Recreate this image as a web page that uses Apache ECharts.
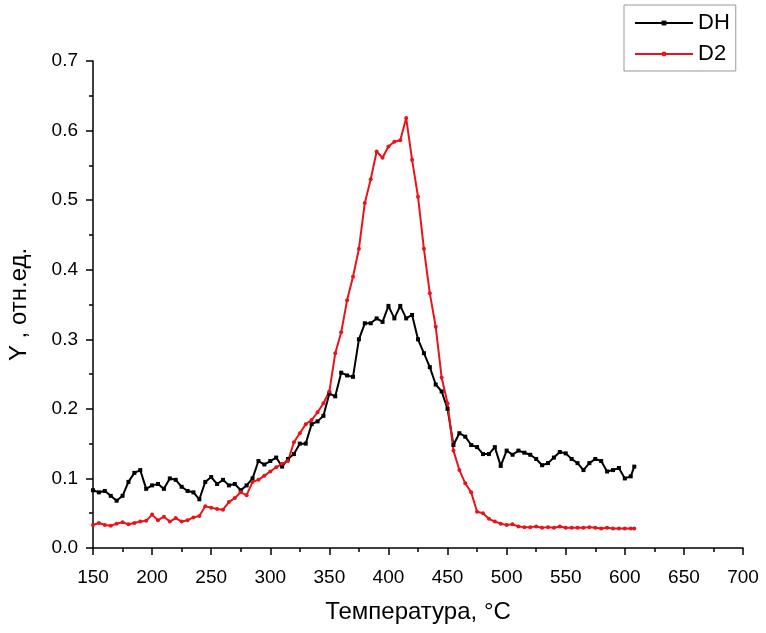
<!DOCTYPE html>
<html>
<head>
<meta charset="utf-8">
<script src="https://cdn.jsdelivr.net/npm/echarts@6/dist/echarts.min.js"></script>
<style>
  html, body {margin: 0; padding: 0; background: #fff;}
  #chart {width: 766px; height: 633px;}
</style>
</head>
<body>
<div id="chart"></div>
<script>
// temperature, °C
const temps = [150,155,160,165,170,175,180,185,190,195,200,205,210,215,220,225,230,235,240,245,
  250,255,260,265,270,275,280,285,290,295,300,305,310,315,320,325,330,335,340,345,
  350,355,360,365,370,375,380,385,390,395,400,405,410,415,420,425,430,435,440,445,
  450,455,460,465,470,475,480,485,490,495,500,505,510,515,520,525,530,535,540,545,
  550,555,560,565,570,575,580,585,590,595,600,605,608];

const dhValues = [0.083,0.080,0.082,0.075,0.068,0.075,0.095,0.108,0.112,0.085,0.090,0.092,0.085,0.100,0.098,0.088,0.082,0.080,0.070,0.095,
  0.102,0.092,0.098,0.090,0.092,0.083,0.090,0.100,0.125,0.120,0.125,0.130,0.117,0.128,0.135,0.150,0.150,0.178,0.182,0.190,
  0.222,0.218,0.252,0.248,0.246,0.300,0.323,0.323,0.330,0.325,0.348,0.330,0.348,0.330,0.335,0.300,0.280,0.260,0.235,0.225,
  0.200,0.148,0.165,0.160,0.148,0.145,0.135,0.135,0.145,0.118,0.140,0.134,0.140,0.137,0.134,0.128,0.119,0.122,0.130,0.138,
  0.136,0.128,0.122,0.112,0.122,0.128,0.125,0.110,0.112,0.115,0.100,0.103,0.117];

const d2Values = [0.033,0.036,0.033,0.032,0.035,0.037,0.034,0.036,0.038,0.039,0.048,0.040,0.045,0.038,0.043,0.038,0.040,0.044,0.046,0.060,
  0.058,0.056,0.055,0.066,0.072,0.080,0.076,0.095,0.098,0.104,0.110,0.116,0.121,0.125,0.152,0.165,0.178,0.184,0.195,0.208,
  0.225,0.280,0.310,0.356,0.390,0.430,0.496,0.530,0.570,0.561,0.577,0.584,0.586,0.618,0.558,0.505,0.430,0.366,0.318,0.245,
  0.208,0.140,0.112,0.093,0.080,0.052,0.050,0.042,0.038,0.035,0.033,0.034,0.031,0.030,0.030,0.031,0.029,0.030,0.029,0.031,
  0.029,0.029,0.029,0.029,0.030,0.029,0.028,0.029,0.028,0.028,0.028,0.028,0.028];

const seriesNames = ['DH', 'D2'];

const chart = echarts.init(document.getElementById('chart'));

const font = 'Liberation Sans, Arial, sans-serif';
const axisLine = {show: true, onZero: false, lineStyle: {color: '#000', width: 1.5}};

const option = {
  animation: false,
  backgroundColor: '#fff',
  grid: {left: 93, right: 23, top: 61, bottom: 85, outerBoundsMode: 'none'},
  legend: {
    orient: 'vertical',
    left: 624,
    top: 5,
    padding: [7, 6, 6, 10],
    itemGap: 9,
    itemWidth: 58,
    itemHeight: 6,
    borderColor: '#999',
    borderWidth: 1,
    textStyle: {fontFamily: font, fontSize: 22, color: '#000'},
    data: seriesNames
  },
  xAxis: {
    type: 'value',
    min: 150,
    max: 700,
    interval: 50,
    name: 'Температура, °C',
    nameLocation: 'middle',
    nameGap: 52,
    nameTextStyle: {fontFamily: font, fontSize: 24, color: '#000'},
    axisLine: axisLine,
    axisTick: {show: true, length: 7, lineStyle: {color: '#000', width: 1.5}},
    minorTick: {show: true, splitNumber: 2, length: 4, lineStyle: {color: '#000', width: 1.5}},
    axisLabel: {fontFamily: font, fontSize: 19, color: '#000', margin: 20},
    splitLine: {show: false}
  },
  yAxis: {
    type: 'value',
    min: 0,
    max: 0.7,
    interval: 0.1,
    name: 'Y , отн.ед.',
    nameLocation: 'middle',
    nameGap: 62,
    nameTextStyle: {fontFamily: font, fontSize: 24, color: '#000'},
    axisLine: axisLine,
    axisTick: {show: true, length: 7, lineStyle: {color: '#000', width: 1.5}},
    minorTick: {show: true, splitNumber: 2, length: 4, lineStyle: {color: '#000', width: 1.5}},
    axisLabel: {fontFamily: font, fontSize: 19, color: '#000', margin: 15,
      formatter: v => v.toFixed(1)},
    splitLine: {show: false}
  },
  series: [
    {
      name: 'DH',
      type: 'line',
      data: temps.map((t, i) => [t, dhValues[i]]),
      symbol: 'rect',
      symbolSize: 4,
      itemStyle: {color: '#000'},
      lineStyle: {color: '#000', width: 2}
    },
    {
      name: 'D2',
      type: 'line',
      data: temps.map((t, i) => [t, d2Values[i]]),
      symbol: 'circle',
      symbolSize: 4,
      itemStyle: {color: '#e8141a'},
      lineStyle: {color: '#e8141a', width: 2}
    }
  ]
};

chart.setOption(option);
</script>
</body>
</html>
